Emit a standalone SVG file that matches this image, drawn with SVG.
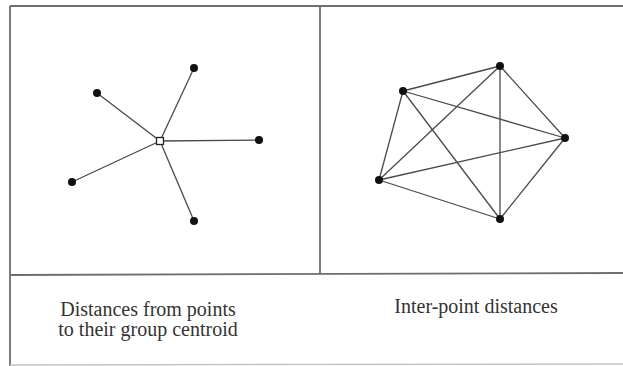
<svg xmlns="http://www.w3.org/2000/svg" width="623" height="366" viewBox="0 0 623 366">
<style>
.frame{stroke:#6e6e6e;stroke-width:1.8;fill:none}
.faint{stroke:#c4c4c4;stroke-width:1.5;fill:none}
.edge{stroke:#4a4a4a;stroke-width:1.3;fill:none}
.pt{fill:#111}
.cen{fill:#fff;stroke:#222;stroke-width:1.3}
.lbl{font-family:"Liberation Serif","Times New Roman",serif;font-size:20px;fill:#333;text-anchor:middle}
</style>
<rect width="623" height="366" fill="#fff"/>
<g id="frame">
<line class="frame" x1="10" y1="6" x2="623" y2="6"/>
<line class="frame" x1="10" y1="6" x2="10" y2="366"/>
<line class="frame" x1="10" y1="275" x2="623" y2="273"/>
<line class="frame" x1="320" y1="6" x2="320" y2="274"/>
<line class="faint" x1="10" y1="365" x2="623" y2="364"/>
</g>
<g id="connectors">
<line class="edge" x1="160" y1="141" x2="194" y2="68"/>
<line class="edge" x1="160" y1="141" x2="97" y2="93"/>
<line class="edge" x1="160" y1="141" x2="259" y2="140"/>
<line class="edge" x1="160" y1="141" x2="72" y2="182"/>
<line class="edge" x1="160" y1="141" x2="194" y2="221"/>
<line class="edge" x1="500" y1="66" x2="403" y2="91"/>
<line class="edge" x1="500" y1="66" x2="565" y2="138"/>
<line class="edge" x1="500" y1="66" x2="379" y2="180"/>
<line class="edge" x1="500" y1="66" x2="500" y2="219"/>
<line class="edge" x1="403" y1="91" x2="565" y2="138"/>
<line class="edge" x1="403" y1="91" x2="379" y2="180"/>
<line class="edge" x1="403" y1="91" x2="500" y2="219"/>
<line class="edge" x1="565" y1="138" x2="379" y2="180"/>
<line class="edge" x1="565" y1="138" x2="500" y2="219"/>
<line class="edge" x1="379" y1="180" x2="500" y2="219"/>
</g>
<g id="centroid"><rect class="cen" x="156.5" y="137.5" width="7" height="7"/></g>
<g id="L1"><circle class="pt" cx="194" cy="68" r="4"/></g>
<g id="L2"><circle class="pt" cx="97" cy="93" r="4"/></g>
<g id="L3"><circle class="pt" cx="259" cy="140" r="4"/></g>
<g id="L4"><circle class="pt" cx="72" cy="182" r="4"/></g>
<g id="L5"><circle class="pt" cx="194" cy="221" r="4"/></g>
<g id="R1"><circle class="pt" cx="500" cy="66" r="4"/></g>
<g id="R2"><circle class="pt" cx="403" cy="91" r="4"/></g>
<g id="R3"><circle class="pt" cx="565" cy="138" r="4"/></g>
<g id="R4"><circle class="pt" cx="379" cy="180" r="4"/></g>
<g id="R5"><circle class="pt" cx="500" cy="219" r="4"/></g>
<g id="label-left">
<text class="lbl" x="148" y="316">Distances from points</text>
<text class="lbl" x="148" y="336">to their group centroid</text>
</g>
<g id="label-right"><text class="lbl" x="476" y="313">Inter-point distances</text></g>
</svg>
